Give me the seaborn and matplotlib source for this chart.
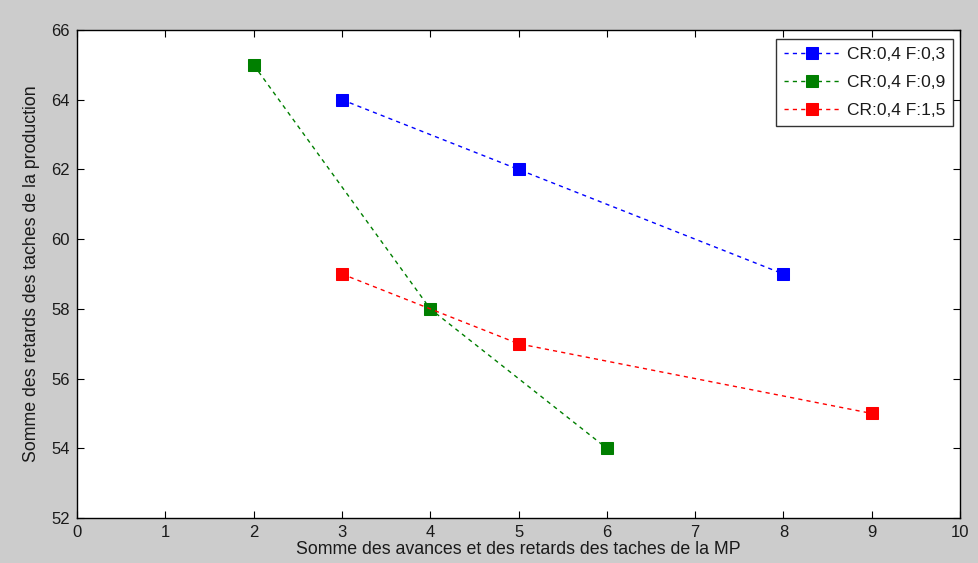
import matplotlib
matplotlib.use("Agg")
import matplotlib.pyplot as plt
import seaborn as sns
import pandas as pd

# Data
labels = ["CR:0,4 F:0,3", "CR:0,4 F:0,9", "CR:0,4 F:1,5"]
x_blue = [3, 5, 8]
y_blue = [64, 62, 59]
x_green = [2, 4, 6]
y_green = [65, 58, 54]
x_red = [3, 5, 9]
y_red = [59, 57, 55]
colors = ["#0000ff", "#007f00", "#ff0000"]
xticks = list(range(0, 11))
yticks = list(range(52, 67, 2))

sns.set_theme(style="white")
plt.rcParams['font.family'] = ['Liberation Sans', 'DejaVu Sans']
plt.rcParams['text.color'] = '#1a1a1a'
plt.rcParams['axes.labelcolor'] = '#1a1a1a'

fig = plt.figure(figsize=(9.79, 5.63), dpi=100, facecolor="#cccccc")
ax = fig.add_axes([0.0787, 0.0799, 0.9019, 0.8668])
ax.set_facecolor("white")

series = [(x_blue, y_blue), (x_green, y_green), (x_red, y_red)]
for (xs, ys), lab, col in zip(series, labels, colors):
    df = pd.DataFrame({"x": xs, "y": ys})
    sns.lineplot(data=df, x="x", y="y", ax=ax, sort=False, color=col, label=lab,
                 marker="s", markersize=9, markeredgecolor=col, markerfacecolor=col,
                 linewidth=1.0, linestyle=(0, (3, 3)))

ax.set_xlim(0, 10)
ax.set_ylim(52, 66)
ax.set_xticks(xticks)
ax.set_yticks(yticks)
ax.tick_params(direction="in", length=5, width=0.8, top=True, right=True,
               bottom=True, left=True, labelsize=12, colors="black", pad=5,
               labelcolor="#1a1a1a")
for sp in ax.spines.values():
    sp.set_color("black")
    sp.set_linewidth(1.0)

ax.set_xlabel("Somme des avances et des retards des taches de la MP", fontsize=12.8, labelpad=1)
ax.set_ylabel("Somme des retards des taches de la production", fontsize=12.8, labelpad=8)

leg = ax.legend(loc="upper right", bbox_to_anchor=(0.992, 0.982), frameon=True, fancybox=False,
                edgecolor="black", fontsize=12.5, handlelength=3.2, borderpad=0.45,
                labelspacing=0.75, handletextpad=0.4, borderaxespad=0)
leg.get_frame().set_linewidth(1.0)

fig.savefig("out.png", dpi=100, facecolor=fig.get_facecolor())
